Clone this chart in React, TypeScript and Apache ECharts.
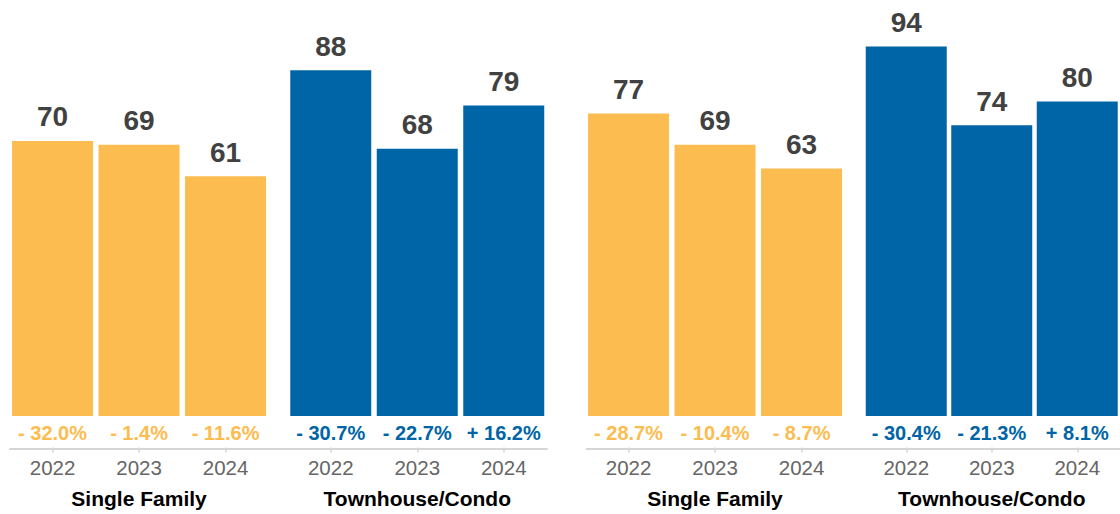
import React, { useEffect, useRef } from "react";
import * as echarts from "echarts";

const years = ["2022", "2023", "2024"];
const groupNames = ["Single Family", "Townhouse/Condo"];

const leftSingleFamily = [70, 69, 61];
const leftTownhouse = [88, 68, 79];
const rightSingleFamily = [77, 69, 63];
const rightTownhouse = [94, 74, 80];

const leftSingleFamilyPct = [-32.0, -1.4, -11.6];
const leftTownhousePct = [-30.7, -22.7, 16.2];
const rightSingleFamilyPct = [-28.7, -10.4, -8.7];
const rightTownhousePct = [-30.4, -21.3, 8.1];

const YELLOW = "#FCBC50";
const BLUE = "#0065A6";
const FONT = "'Liberation Sans', Arial, Helvetica, sans-serif";

const fmtPct = (v: number) => (v < 0 ? "- " : "+ ") + Math.abs(v).toFixed(1) + "%";

export default function App() {
  const ref = useRef<HTMLDivElement>(null);

  useEffect(() => {
    if (!ref.current) return;
    const chart = echarts.init(ref.current, null, { renderer: "svg" });

    const groups = [
      { left: 9.3, values: leftSingleFamily, pct: leftSingleFamilyPct, color: YELLOW, name: groupNames[0] },
      { left: 287.5, values: leftTownhouse, pct: leftTownhousePct, color: BLUE, name: groupNames[1] },
      { left: 585.3, values: rightSingleFamily, pct: rightSingleFamilyPct, color: YELLOW, name: groupNames[0] },
      { left: 863.5, values: rightTownhouse, pct: rightTownhousePct, color: BLUE, name: groupNames[1] },
    ];

    const grids: any[] = [];
    const xAxes: any[] = [];
    const yAxes: any[] = [];
    const series: any[] = [];

    groups.forEach((g, i) => {
      grids.push({ left: g.left, width: 259.5, top: 23, bottom: 97 });
      xAxes.push({
        type: "category",
        gridIndex: i,
        data: years,
        position: "bottom",
        offset: 0,
        axisLine: { show: false },
        axisTick: { show: false },
        axisLabel: {
          interval: 0,
          hideOverlap: false,
          margin: 6.5,
          fontFamily: FONT,
          fontSize: 20,
          fontWeight: "bold",
          color: g.color,
          formatter: (_v: string, idx: number) => fmtPct(g.pct[idx]),
        },
      });
      xAxes.push({
        type: "category",
        gridIndex: i,
        data: years,
        position: "bottom",
        offset: 31.5,
        axisLine: { show: false },
        axisTick: {
          show: true,
          interval: 0,
          alignWithLabel: true,
          length: 5,
          lineStyle: { color: "#d4d4d4", width: 1.5 },
        },
        axisLabel: { interval: 0, margin: 9.5, fontFamily: FONT, fontSize: 20.5, color: "#666666" },
        name: g.name,
        nameLocation: "middle",
        nameGap: 40.5,
        nameTextStyle: { fontFamily: FONT, fontSize: 21, fontWeight: "bold", color: "#000000" },
      });
      yAxes.push({ type: "value", gridIndex: i, min: 0, max: 100, show: false });
      series.push({
        type: "bar",
        xAxisIndex: i * 2 + 1,
        yAxisIndex: i,
        data: g.values,
        barWidth: 81,
        itemStyle: { color: g.color },
        label: {
          show: true,
          position: "top",
          distance: 10,
          fontFamily: FONT,
          fontSize: 28,
          fontWeight: "bold",
          color: "#414141",
        },
      });
    });

    const panels = [
      { left: 10, width: 537 },
      { left: 586.7, width: 540 },
    ];
    panels.forEach((p, j) => {
      const gi = groups.length + j;
      grids.push({ left: p.left, width: p.width, bottom: 65.5, height: 10 });
      xAxes.push({
        type: "category",
        gridIndex: gi,
        data: [""],
        axisLine: { show: true, lineStyle: { color: "#d6d6d6", width: 2 } },
        axisTick: { show: false },
        axisLabel: { show: false },
      });
      yAxes.push({ type: "value", gridIndex: gi, show: false });
    });

    chart.setOption({
      animation: false,
      backgroundColor: "#ffffff",
      grid: grids,
      xAxis: xAxes,
      yAxis: yAxes,
      series,
    });

    return () => chart.dispose();
  }, []);

  return (
    <div
      ref={ref}
      style={{ position: "fixed", left: 0, top: 0, width: 1120, height: 514 }}
    />
  );
}
